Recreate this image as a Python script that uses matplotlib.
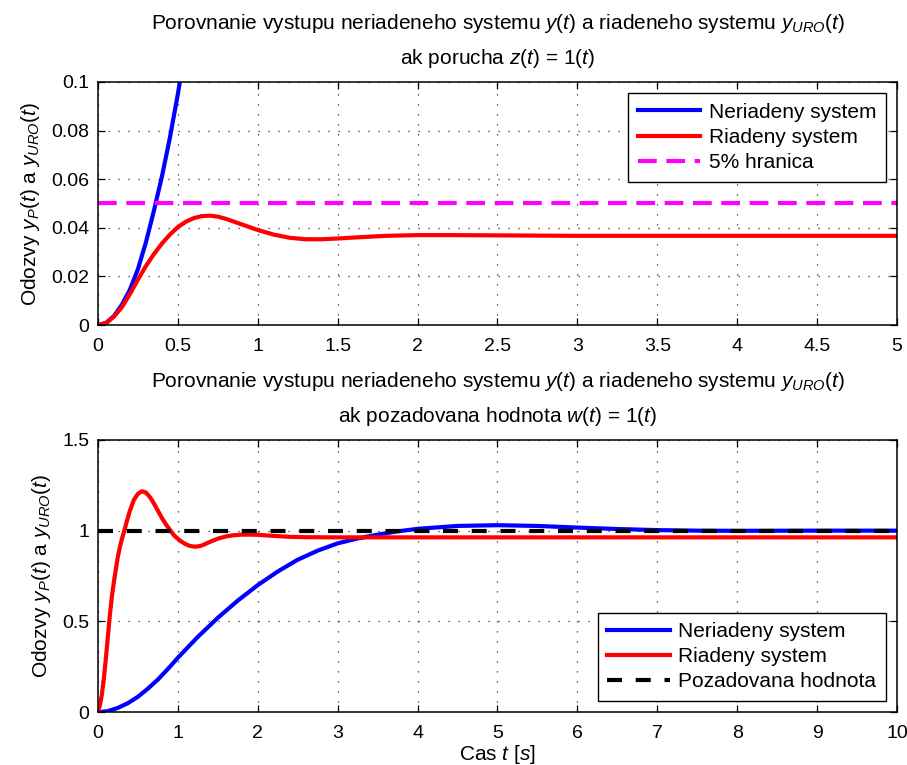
import numpy as np
import matplotlib.pyplot as plt

# values

# top plot: response to disturbance z(t) = 1(t)
t_dist = [0, 0.05, 0.1, 0.15, 0.2, 0.25, 0.3, 0.35, 0.4, 0.45, 0.5, 0.55, 0.6,
          0.65, 0.7, 0.75, 0.8, 0.9, 1.0, 1.1, 1.2, 1.3, 1.4, 1.5, 1.6, 1.8,
          2.0, 2.2, 2.5, 3.0, 3.5, 4.0, 4.5, 5.0]
y_ctrl_dist = [0, 0.0008, 0.0035, 0.0074, 0.0128, 0.0187, 0.0243, 0.0292,
               0.0335, 0.0372, 0.0403, 0.0425, 0.0440, 0.0448, 0.0450, 0.0446,
               0.0437, 0.0414, 0.0391, 0.0372, 0.0359, 0.0353, 0.0353, 0.0356,
               0.0360, 0.0367, 0.0370, 0.0370, 0.0369, 0.0367, 0.0367, 0.0367,
               0.0367, 0.0367]
t_dist_open = [0, 0.05, 0.1, 0.15, 0.2, 0.25, 0.3, 0.35, 0.4, 0.45, 0.5, 0.525]
y_open_dist = [0, 0.0009, 0.0037, 0.0084, 0.0146, 0.0230, 0.0340, 0.0470,
               0.0610, 0.0770, 0.0950, 0.1050]
limit_5pct = 0.05

# bottom plot: response to setpoint w(t) = 1(t)
t_ref = [0, 0.125, 0.25, 0.375, 0.5, 0.625, 0.75, 0.875, 1.0, 1.25, 1.5, 1.75,
         2.0, 2.25, 2.5, 2.75, 3.0, 3.25, 3.5, 3.75, 4.0, 4.5, 5.0, 5.5, 6.0,
         6.5, 7.0, 7.5, 8.0, 9.0, 10.0]
y_open_ref = [0, 0.006, 0.024, 0.05, 0.085, 0.13, 0.18, 0.238, 0.30, 0.415,
              0.52, 0.615, 0.70, 0.775, 0.84, 0.89, 0.93, 0.957, 0.978, 0.996,
              1.01, 1.026, 1.030, 1.026, 1.017, 1.009, 1.003, 1.0, 0.999, 1.0,
              1.0]
t_ref_ctrl = [0, 0.025, 0.05, 0.075, 0.1, 0.125, 0.15, 0.175, 0.2, 0.225, 0.25,
              0.275, 0.3, 0.33, 0.36, 0.4, 0.45, 0.5, 0.55, 0.6, 0.65, 0.7,
              0.75, 0.8, 0.85, 0.9, 0.95, 1.0, 1.05, 1.1, 1.15, 1.2, 1.25, 1.3,
              1.4, 1.5, 1.6, 1.7, 1.8, 1.9, 2.0, 2.2, 2.4, 2.6, 3.0, 10.0]
y_ctrl_ref = [0, 0.04, 0.10, 0.19, 0.30, 0.42, 0.54, 0.64, 0.72, 0.79, 0.86,
              0.91, 0.955, 1.0, 1.05, 1.11, 1.17, 1.203, 1.217, 1.21, 1.185,
              1.15, 1.11, 1.07, 1.035, 1.005, 0.975, 0.955, 0.938, 0.925, 0.916,
              0.912, 0.913, 0.918, 0.938, 0.956, 0.968, 0.975, 0.978, 0.978,
              0.977, 0.971, 0.966, 0.964, 0.963, 0.963]
setpoint = 1.0

plt.rcParams['font.family'] = 'Liberation Sans'
plt.rcParams['mathtext.fontset'] = 'custom'
plt.rcParams['mathtext.rm'] = 'Liberation Sans'
plt.rcParams['mathtext.it'] = 'Liberation Sans:italic'

LW = 3.0
GRID_LS = (0, (1, 7))


def style_axes(ax):
    ax.grid(True, linestyle=GRID_LS, color='#333333', linewidth=0.9)
    ax.tick_params(direction='in', top=True, right=True, length=5, width=0.9,
                   labelsize=14)
    ax.tick_params(axis='x', pad=9)
    ax.tick_params(axis='y', pad=6)
    for s in ax.spines.values():
        s.set_linewidth(1.1)


def add_legend(ax, loc):
    leg = ax.legend(loc=loc, fontsize=15, fancybox=False, framealpha=1,
                    edgecolor='black', handlelength=3.0, borderaxespad=0.55,
                    labelspacing=0.3, handletextpad=0.4, borderpad=0.45)
    leg.get_frame().set_linewidth(1.0)


def main():
    fig = plt.figure(figsize=(9.07, 7.65), dpi=100)

    # disturbance response
    ax1 = fig.add_axes([0.108, 0.575, 0.881, 0.318])
    ax1.plot(t_dist_open, y_open_dist, color='blue', lw=LW, label='Neriadeny system')
    ax1.plot(t_dist, y_ctrl_dist, color='red', lw=LW, label='Riadeny system')
    ax1.axhline(limit_5pct, color='magenta', lw=LW, ls=(0, (4.5, 2.3)), label='5% hranica')
    ax1.set_xlim(0, 5)
    ax1.set_ylim(0, 0.1)
    ax1.set_xticks(np.arange(0, 5.01, 0.5))
    ax1.set_xticklabels(['0', '0.5', '1', '1.5', '2', '2.5', '3', '3.5', '4', '4.5', '5'])
    ax1.set_yticks(np.arange(0, 0.101, 0.02))
    ax1.set_yticklabels(['0', '0.02', '0.04', '0.06', '0.08', '0.1'])
    ax1.set_ylabel('Odozvy $y_P(t)$ a $y_{URO}(t)$', fontsize=15, labelpad=7)
    ax1.set_title('Porovnanie vystupu neriadeneho systemu $y(t)$ a riadeneho systemu $y_{URO}(t)$\n'
                  'ak porucha $z(t)$ = 1($t$)', fontsize=15, linespacing=1.7, pad=13)
    style_axes(ax1)
    add_legend(ax1, 'upper right')

    # setpoint response
    ax2 = fig.add_axes([0.108, 0.069, 0.881, 0.356])
    ax2.plot(t_ref, y_open_ref, color='blue', lw=LW, label='Neriadeny system')
    ax2.plot(t_ref_ctrl, y_ctrl_ref, color='red', lw=LW, label='Riadeny system')
    ax2.axhline(setpoint, color='black', lw=LW, ls=(0, (3.6, 3.3)), label='Pozadovana hodnota')
    ax2.set_xlim(0, 10)
    ax2.set_ylim(0, 1.5)
    ax2.set_xticks(np.arange(0, 11, 1))
    ax2.set_yticks([0, 0.5, 1, 1.5])
    ax2.set_yticklabels(['0', '0.5', '1', '1.5'])
    ax2.set_ylabel('Odozvy $y_P(t)$ a $y_{URO}(t)$', fontsize=15, labelpad=7)
    ax2.set_xlabel('Cas $t$ [$s$]', fontsize=15, labelpad=1)
    ax2.set_title('Porovnanie vystupu neriadeneho systemu $y(t)$ a riadeneho systemu $y_{URO}(t)$\n'
                  'ak pozadovana hodnota $w(t)$ = 1($t$)', fontsize=15, linespacing=1.7, pad=13)
    style_axes(ax2)
    add_legend(ax2, 'lower right')

    fig.savefig('out.png', dpi=100)


if __name__ == '__main__':
    main()
